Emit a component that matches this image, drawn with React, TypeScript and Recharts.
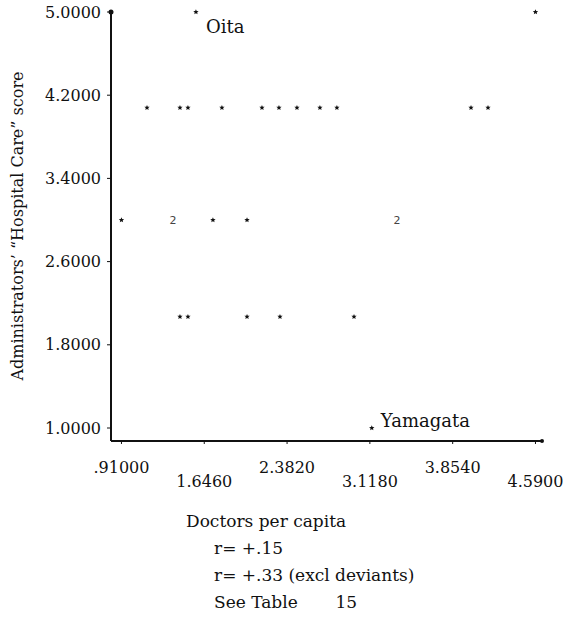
import React from 'react';
import { ScatterChart, Scatter, XAxis, YAxis, ReferenceDot } from 'recharts';

// doctors per capita and administrators' hospital care score
const doctors = [
  4.59, 1.572,
  1.137, 1.43, 1.501, 1.803, 2.159, 2.31, 2.47, 2.674, 2.825, 4.017, 4.168,
  0.91, 1.368, 1.723, 2.026, 3.359,
  1.43, 1.501, 2.026, 2.319, 2.977,
  3.135,
];
const scores = [
  5.0, 5.0,
  4.08, 4.08, 4.08, 4.08, 4.08, 4.08, 4.08, 4.08, 4.08, 4.08, 4.08,
  3.0, 3.0, 3.0, 3.0, 3.0,
  2.07, 2.07, 2.07, 2.07, 2.07,
  1.0,
];
// number of prefectures sharing a point (2 is printed as a digit)
const counts = [
  1, 1,
  1, 1, 1, 1, 1, 1, 1, 1, 1, 1, 1,
  1, 2, 1, 1, 2,
  1, 1, 1, 1, 1,
  1,
];
const names = ['', 'Oita', '', '', '', '', '', '', '', '', '', '', '', '', '', '', '', '', '', '', '', '', '', 'Yamagata'];

const xTicks = [0.91, 1.646, 2.382, 3.118, 3.854, 4.59];
const xTickLabels = ['.91000', '1.6460', '2.3820', '3.1180', '3.8540', '4.5900'];
const yTicks = [1.0, 1.8, 2.6, 3.4, 4.2, 5.0];
const xDomain = [0.817, 4.648];
const yDomain = [0.875, 5.0];

const notes = ['r= +.15', 'r= +.33 (excl deviants)', 'See Table\u00a0\u00a0\u00a0\u00a0\u00a0\u00a0\u00a015'];

const FONT = '"DejaVu Serif", serif';

const points = doctors.map((d, i) => ({ x: d, y: scores[i], n: counts[i], name: names[i] }));

const starPath = (cx: number, cy: number, r: number) => {
  let p = '';
  for (let k = 0; k < 10; k++) {
    const rr = k % 2 === 0 ? r : r * 0.45;
    const a = -Math.PI / 2 + (k * Math.PI) / 5;
    p += (k === 0 ? 'M' : 'L') + (cx + rr * Math.cos(a)).toFixed(2) + ',' + (cy + rr * Math.sin(a)).toFixed(2);
  }
  return p + 'Z';
};

const PointShape = (props: any) => {
  const { cx, cy, payload } = props;
  return (
    <g>
      {payload.n > 1 ? (
        <text x={cx} y={cy + 4} textAnchor="middle" fontSize={11} fontFamily="'DejaVu Sans', sans-serif" fill="#444">
          {payload.n}
        </text>
      ) : (
        <path d={starPath(cx, cy, 2.8)} fill="#111" />
      )}
      {payload.name === 'Oita' && (
        <text x={cx + 10} y={cy + 21} fontSize={18} fontFamily={FONT} fill="#111">Oita</text>
      )}
      {payload.name === 'Yamagata' && (
        <text x={cx + 9} y={cy - 1} fontSize={18} fontFamily={FONT} fill="#111">Yamagata</text>
      )}
    </g>
  );
};

const XTick = (props: any) => {
  const { x, y, index } = props;
  const dy = index % 2 === 0 ? 27 : 41;
  return (
    <text x={x} y={y + dy} textAnchor="middle" fontSize={16} fontFamily={FONT} fill="#111">
      {xTickLabels[index]}
    </text>
  );
};

const YLabel = () => (
  <text
    x={0}
    y={0}
    transform="translate(23,226) rotate(-90)"
    textAnchor="middle"
    fontSize={16}
    fontFamily={FONT}
    fill="#111"
  >
    Administrators’ “Hospital Care” score
  </text>
);

export default function App() {
  return (
    <div style={{ position: 'absolute', left: 0, top: 0, width: 578, height: 626, background: '#fff' }}>
      <ScatterChart width={578} height={626} margin={{ top: 12, right: 36, bottom: 125, left: 0 }}>
        <XAxis
          type="number"
          dataKey="x"
          domain={xDomain}
          ticks={xTicks}
          tick={<XTick />}
          tickLine={{ stroke: '#111' }}
          tickSize={3}
          axisLine={{ stroke: '#111', strokeWidth: 2 }}
          height={60}
          interval={0}
        />
        <YAxis
          type="number"
          dataKey="y"
          domain={yDomain}
          ticks={yTicks}
          tickFormatter={(v: number) => v.toFixed(4)}
          tick={{ fontSize: 16, fontFamily: FONT, fill: '#111', dx: -4 }}
          tickLine={{ stroke: '#111' }}
          tickSize={4}
          axisLine={{ stroke: '#111', strokeWidth: 2 }}
          width={111}
          interval={0}
          label={<YLabel />}
        />
        <ReferenceDot x={xDomain[0]} y={yDomain[1]} r={2.5} fill="#111" stroke="none" ifOverflow="visible" />
        <ReferenceDot x={xDomain[1]} y={yDomain[0]} r={2} fill="#111" stroke="none" ifOverflow="visible" />
        <Scatter data={points} shape={<PointShape />} isAnimationActive={false} />
      </ScatterChart>
      <div style={{ position: 'absolute', left: 186, top: 513, fontFamily: FONT, fontSize: 17, lineHeight: '17px', color: '#111' }}>
        Doctors per capita
      </div>
      {notes.map((t, i) => (
        <div
          key={i}
          style={{
            position: 'absolute',
            left: 214,
            top: 540 + i * 27,
            fontFamily: FONT,
            fontSize: 17,
            lineHeight: '17px',
            color: '#111',
            whiteSpace: 'pre',
          }}
        >
          {t}
        </div>
      ))}
    </div>
  );
}
